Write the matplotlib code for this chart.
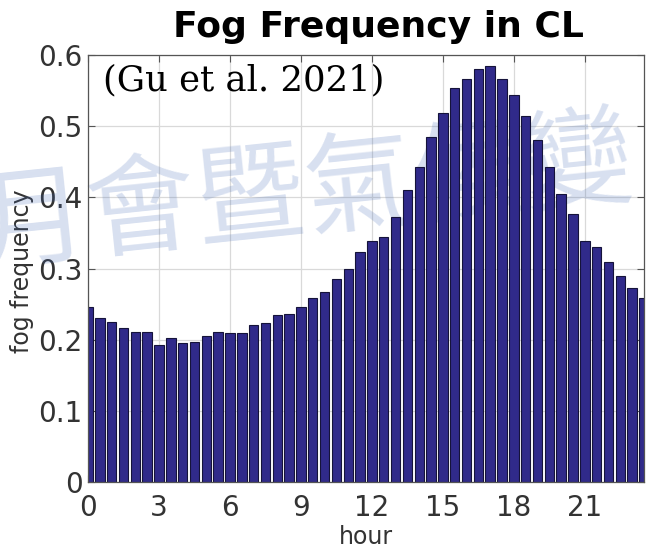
import matplotlib.pyplot as plt
import numpy as np

# Half-hourly fog frequency, 00:00 to 23:30
hours = np.arange(0, 24, 0.5)
fog_freq = [
    0.246, 0.231, 0.225, 0.216, 0.211, 0.211, 0.192, 0.203,
    0.196, 0.197, 0.205, 0.211, 0.209, 0.210, 0.221, 0.223,
    0.234, 0.236, 0.246, 0.258, 0.267, 0.285, 0.300, 0.323,
    0.338, 0.344, 0.372, 0.411, 0.443, 0.485, 0.518, 0.554,
    0.566, 0.580, 0.585, 0.566, 0.544, 0.514, 0.480, 0.443,
    0.404, 0.376, 0.339, 0.330, 0.309, 0.290, 0.272, 0.259,
]
x_ticks = [0, 3, 6, 9, 12, 15, 18, 21]
y_ticks = [0, 0.1, 0.2, 0.3, 0.4, 0.5, 0.6]
y_tick_labels = ["0", "0.1", "0.2", "0.3", "0.4", "0.5", "0.6"]

W, H = 654, 556
fig = plt.figure(figsize=(W / 100, H / 100), dpi=100)
fig.patch.set_facecolor("white")

left, right, top, bottom = 88, 644, 55, 482
ax = fig.add_axes([left / W, 1 - bottom / H, (right - left) / W, (bottom - top) / H])
ax.set_facecolor("none")

ax.bar(hours, fog_freq, width=0.4, color="#302a8a", edgecolor="#15133a",
       linewidth=0.8, zorder=2)

ax.set_xlim(0, 23.5)
ax.set_ylim(0, 0.6)
ax.set_xticks(x_ticks)
ax.set_yticks(y_ticks)
ax.set_yticklabels(y_tick_labels)
ax.tick_params(direction="in", length=5, width=0.8, color="#555555",
               labelsize=20, labelcolor="#333333", top=True, right=True)
ax.tick_params(axis="x", pad=9)
ax.tick_params(axis="y", pad=4)
ax.grid(True, color="#d9d9d9", linewidth=0.9)
ax.set_axisbelow(True)
for s in ax.spines.values():
    s.set_color("#555555")
    s.set_linewidth(0.9)

ax.set_xlabel("hour", fontsize=17, color="#333333")
ax.xaxis.set_label_coords((366 - left) / (right - left), -(525 - bottom) / (bottom - top))
ax.set_ylabel("fog frequency", fontsize=17, color="#333333")
ax.yaxis.set_label_coords(-(left - 34) / (right - left), (bottom - 271) / (bottom - top))

fig.text(378.5 / W, 1 - 37 / H, "Fog Frequency in CL", fontsize=26,
         fontweight="bold", ha="center", va="baseline", color="black")

ax.text((103 - left) / (right - left), (bottom - 80) / (bottom - top),
        "(Gu et al. 2021)", transform=ax.transAxes, fontsize=25.5,
        family="DejaVu Serif", ha="left", va="center", color="black",
        zorder=4)

# light watermark behind the bars
ax.text(-22 / W, 1 - 230 / H, "月會暨氣候變", transform=fig.transFigure,
        fontsize=79, family=["Noto Sans CJK TC", "DejaVu Sans"],
        color="#3c64b4", alpha=0.2, rotation=6, rotation_mode="anchor",
        ha="left", va="center", clip_on=False, zorder=1)

fig.savefig("out.png", dpi=100)
